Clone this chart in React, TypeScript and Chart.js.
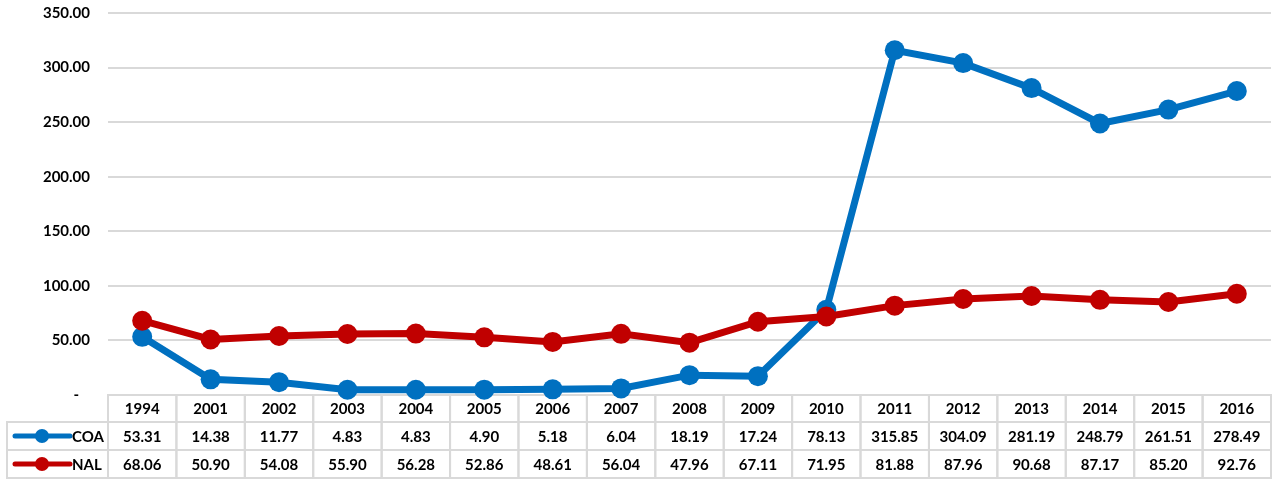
import React, { useEffect, useRef } from "react";
import { Chart, registerables } from "chart.js";

Chart.register(...registerables);

const categories = ["1994", "2001", "2002", "2003", "2004", "2005", "2006", "2007", "2008", "2009", "2010", "2011", "2012", "2013", "2014", "2015", "2016"];
const coaValues = [53.31, 14.38, 11.77, 4.83, 4.83, 4.9, 5.18, 6.04, 18.19, 17.24, 78.13, 315.85, 304.09, 281.19, 248.79, 261.51, 278.49];
const nalValues = [68.06, 50.9, 54.08, 55.9, 56.28, 52.86, 48.61, 56.04, 47.96, 67.11, 71.95, 81.88, 87.96, 90.68, 87.17, 85.2, 92.76];
const seriesNames = ["COA", "NAL"];
const seriesColors = ["#0070C0", "#C00000"];

const FONT = "Lato, 'Open Sans', sans-serif";

const tablePlugin = {
  id: "dataTable",
  beforeDatasetsDraw(chart: any) {
    const ctx = chart.ctx;
    const xs = chart.scales.x;
    const area = chart.chartArea;
    const n = categories.length;
    const cellW = (area.right - area.left) / n;
    const rowTops = [area.bottom, area.bottom + 27, area.bottom + 55];
    const rowH = [27, 28, 28];
    const legendLeft = 7;
    ctx.save();
    ctx.strokeStyle = "#d9d9d9";
    ctx.lineWidth = 2;
    for (let i = 0; i < n; i++) {
      const cx = xs.getPixelForValue(i);
      const x0 = cx - cellW / 2;
      for (let r = 0; r < 3; r++) {
        ctx.strokeRect(x0, rowTops[r], cellW, rowH[r]);
      }
    }
    for (let r = 1; r < 3; r++) {
      ctx.strokeRect(legendLeft, rowTops[r], area.left - legendLeft, rowH[r]);
    }
    ctx.fillStyle = "#000";
    ctx.font = `bold 15px ${FONT}`;
    ctx.textAlign = "center";
    ctx.textBaseline = "middle";
    const datasets = [coaValues, nalValues];
    for (let i = 0; i < n; i++) {
      const cx = xs.getPixelForValue(i);
      ctx.fillText(categories[i], cx, rowTops[0] + rowH[0] / 2 + 1);
      for (let r = 0; r < 2; r++) {
        ctx.fillText(datasets[r][i].toFixed(2), cx, rowTops[r + 1] + rowH[r + 1] / 2 + 1);
      }
    }
    for (let r = 0; r < 2; r++) {
      const cy = rowTops[r + 1] + rowH[r + 1] / 2;
      ctx.strokeStyle = seriesColors[r];
      ctx.lineWidth = 5;
      ctx.lineCap = "round";
      ctx.beginPath();
      ctx.moveTo(15, cy);
      ctx.lineTo(70, cy);
      ctx.stroke();
      ctx.fillStyle = seriesColors[r];
      ctx.beginPath();
      ctx.arc(42, cy, 7, 0, Math.PI * 2);
      ctx.fill();
      ctx.fillStyle = "#000";
      ctx.textAlign = "left";
      ctx.fillText(seriesNames[r], 72, cy + 1);
    }
    ctx.restore();
  },
};

export default function App() {
  const ref = useRef<HTMLCanvasElement>(null);
  useEffect(() => {
    const chart = new Chart(ref.current!, {
      type: "line",
      data: {
        labels: categories,
        datasets: [
          {
            label: seriesNames[0],
            data: coaValues,
            order: 2,
            borderColor: seriesColors[0],
            backgroundColor: seriesColors[0],
            borderWidth: 7,
            pointRadius: 10,
            pointHoverRadius: 10,
            pointBorderWidth: 0,
            tension: 0,
            clip: false as any,
          },
          {
            label: seriesNames[1],
            data: nalValues,
            order: 1,
            borderColor: seriesColors[1],
            backgroundColor: seriesColors[1],
            borderWidth: 7,
            pointRadius: 10,
            pointHoverRadius: 10,
            pointBorderWidth: 0,
            tension: 0,
            clip: false as any,
          },
        ],
      },
      options: {
        responsive: false,
        animation: false,
        layout: { padding: { left: 0, right: 3, top: 13, bottom: 84 } },
        plugins: { legend: { display: false }, tooltip: { enabled: false } },
        scales: {
          x: { type: "category", offset: true, display: false },
          y: {
            min: 0,
            max: 350,
            border: { display: false },
            grid: { color: "#d9d9d9", lineWidth: 2, drawTicks: true, tickLength: 18, tickColor: "rgba(0,0,0,0)" },
            afterFit(scale: any) {
              scale.width = 108;
            },
            ticks: {
              stepSize: 50,
              padding: 0,
              color: "#000",
              font: { family: FONT, size: 15, weight: "bold" },
              callback: (v: any) => (Number(v) === 0 ? "-   " : Number(v).toFixed(2)),
            },
          },
        },
      },
      plugins: [tablePlugin],
    });
    return () => chart.destroy();
  }, []);
  return (
    <div style={{ position: "fixed", left: 0, top: 0, width: 1281, height: 479, background: "#fff" }}>
      <canvas ref={ref} width={1281} height={479} />
    </div>
  );
}
